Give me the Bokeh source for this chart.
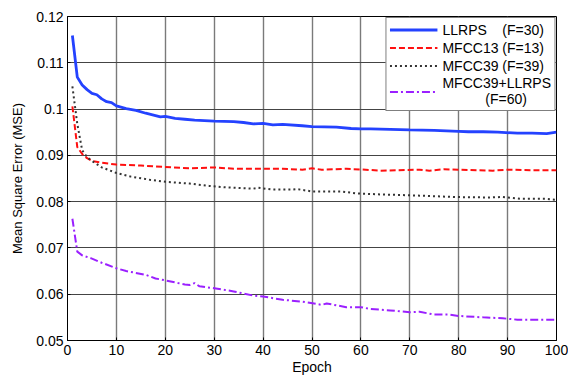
from bokeh.plotting import figure
from bokeh.models import Legend, LegendItem, FixedTicker, Range1d
from bokeh.embed import file_html
from bokeh.resources import INLINE

# ---- data ----
llrps_epoch = [1, 2, 3, 4, 5, 6, 7, 8, 9, 10,
               12, 14, 16, 18, 19, 20, 22, 24, 26, 28, 30,
               34, 36, 38, 40, 42, 44, 48, 50,
               55, 58, 60, 62,
               70, 75, 80, 82, 85, 88, 92, 95, 98, 100]
llrps_mse = [0.1159, 0.1069, 0.1052, 0.1042, 0.1034, 0.1031, 0.1022, 0.1016, 0.1014, 0.1007,
             0.1001, 0.0997, 0.0991, 0.0986, 0.0983, 0.0984, 0.0980, 0.0978, 0.0976, 0.0975, 0.0974,
             0.0973, 0.0971, 0.0968, 0.0969, 0.0966, 0.0967, 0.0964, 0.0962,
             0.0961, 0.0958, 0.0957, 0.0957,
             0.0955, 0.0954, 0.0952, 0.0951, 0.0951, 0.0950, 0.0948, 0.0948, 0.0947, 0.0950]

mfcc13_epoch = [1, 2, 3, 4, 5, 7, 10, 15, 20, 25, 30, 34, 44, 48, 50, 52, 57, 61, 64,
                72, 74, 77, 80, 87, 90, 95, 100]
mfcc13_mse = [0.1006, 0.0918, 0.0903, 0.0894, 0.0888, 0.0884, 0.0880, 0.0878, 0.0875, 0.0872,
              0.0874, 0.0871, 0.0871, 0.0869, 0.0872, 0.0869, 0.0871, 0.0869, 0.0867,
              0.0869, 0.0867, 0.0870, 0.0869, 0.0867, 0.0869, 0.0868, 0.0868]

mfcc39_epoch = [1, 2, 3, 4, 5, 7, 10, 13, 17, 20, 25, 29, 32, 38, 39, 42, 46, 47, 50, 56,
                59, 63, 72, 79, 86, 89, 93, 98, 100]
mfcc39_mse = [0.1049, 0.0968, 0.0911, 0.0896, 0.0888, 0.0874, 0.0862, 0.0854, 0.0847, 0.0843,
              0.0839, 0.0834, 0.0831, 0.0828, 0.0830, 0.0826, 0.0826, 0.0827, 0.0822, 0.0822,
              0.0818, 0.0816, 0.0813, 0.0810, 0.0809, 0.0810, 0.0806, 0.0806, 0.0804]

combo_epoch = [1, 2, 3, 5, 7, 10, 12, 16, 18, 20, 24, 25, 26, 27, 30, 34, 38, 40, 44, 48,
               52, 53, 57, 60, 62, 66, 70, 72, 75, 78, 80, 85, 89, 92, 100]
combo_mse = [0.0763, 0.0692, 0.0684, 0.0677, 0.0668, 0.0656, 0.0650, 0.0642, 0.0634, 0.0630,
             0.0621, 0.0620, 0.0624, 0.0617, 0.0613, 0.0606, 0.0597, 0.0595, 0.0588, 0.0584,
             0.0577, 0.0580, 0.0572, 0.0572, 0.0568, 0.0565, 0.0561, 0.0562, 0.0556, 0.0556,
             0.0553, 0.0550, 0.0548, 0.0545, 0.0545]

x_ticks = [0, 10, 20, 30, 40, 50, 60, 70, 80, 90, 100]
y_ticks = [0.05, 0.06, 0.07, 0.08, 0.09, 0.1, 0.11, 0.12]
y_tick_labels = ["0.05", "0.06", "0.07", "0.08", "0.09", "0.1", "0.11", "0.12"]

legend_labels = [
    "LLRPS\u00a0\u00a0\u00a0\u00a0(F=30)",
    "MFCC13 (F=13)",
    "MFCC39 (F=39)",
    "MFCC39+LLRPS\n" + "\u00a0" * 11 + "(F=60)",
]

FONT = "Liberation Sans"

p = figure(width=568, height=377, output_backend="svg", toolbar_location=None,
           x_range=Range1d(0, 100), y_range=Range1d(0.05, 0.12),
           min_border_left=67, min_border_right=12, min_border_top=16, min_border_bottom=37)

p.background_fill_color = "white"
p.border_fill_color = "white"
p.outline_line_color = "black"
p.outline_line_width = 1

p.xgrid.grid_line_color = "#7a7a7a"
p.xgrid.grid_line_width = 1.4
p.ygrid.grid_line_color = "#444444"
p.ygrid.grid_line_width = 1

for ax in (p.xaxis[0], p.yaxis[0]):
    ax.axis_line_color = "black"
    ax.major_tick_in = 3
    ax.major_tick_out = 0
    ax.minor_tick_line_color = None
    ax.major_label_text_font = FONT
    ax.major_label_text_font_size = "14px"
    ax.major_label_text_color = "black"
    ax.axis_label_text_font = FONT
    ax.axis_label_text_font_style = "normal"
    ax.axis_label_text_color = "black"

p.xaxis.axis_label_text_font_size = "14px"
p.yaxis.axis_label_text_font_size = "13px"
p.xaxis.ticker = FixedTicker(ticks=x_ticks)
p.yaxis.ticker = FixedTicker(ticks=y_ticks)
p.yaxis.major_label_overrides = {t: l for t, l in zip(y_ticks, y_tick_labels)}
p.xaxis.axis_label = "Epoch"
p.yaxis.axis_label = "Mean Square Error (MSE)"
p.xaxis.major_label_standoff = 4
p.xaxis.axis_label_standoff = 1
p.yaxis.major_label_standoff = 4
p.yaxis.axis_label_standoff = 8

r1 = p.line(llrps_epoch, llrps_mse, line_color="#2442ff", line_width=2.8)
r2 = p.line(mfcc13_epoch, mfcc13_mse, line_color="#ff1010", line_width=2, line_dash="6 3")
r3 = p.line(mfcc39_epoch, mfcc39_mse, line_color="#333333", line_width=2, line_dash="2 3")
r4 = p.line(combo_epoch, combo_mse, line_color="#9b20ff", line_width=2, line_dash="8 3 2 3")

legend = Legend(items=[LegendItem(label=l, renderers=[r]) for l, r in
                       zip(legend_labels, [r1, r2, r3, r4])],
                location="top_right")
legend.border_line_color = "black"
legend.border_line_width = 1
legend.background_fill_color = "white"
legend.background_fill_alpha = 1
legend.label_text_font = FONT
legend.label_text_font_size = "14px"
legend.label_text_color = "black"
legend.glyph_width = 48
legend.glyph_height = 17
legend.label_height = 17
legend.label_standoff = 5
legend.padding = 3
legend.spacing = 1
legend.margin = 1
p.add_layout(legend)

open("out.html", "w").write(file_html(p, INLINE))
